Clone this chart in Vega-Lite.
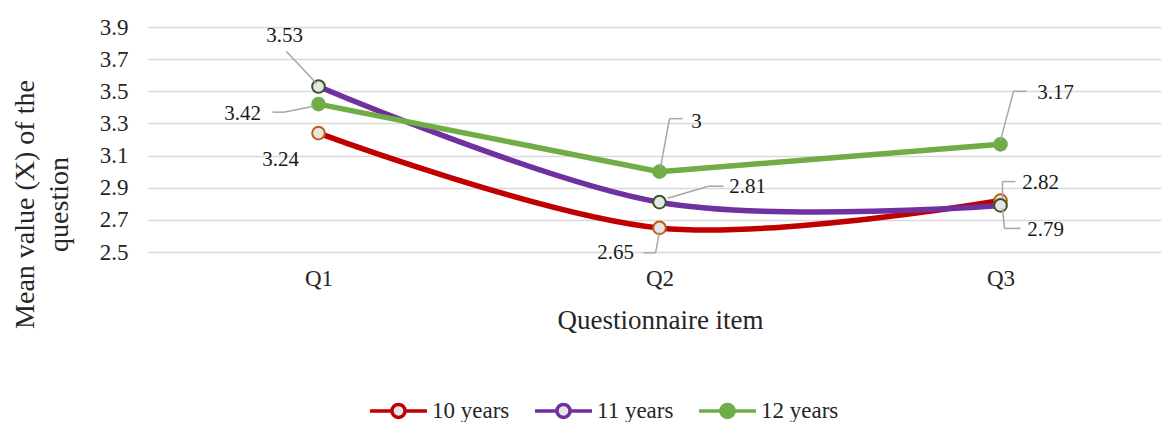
{
  "$schema": "https://vega.github.io/schema/vega-lite/v6.json",
  "width": 1013,
  "height": 225,
  "autosize": {"type": "none"},
  "padding": {"left": 148, "top": 27, "right": 0, "bottom": 170},
  "config": {
    "font": "Liberation Serif",
    "view": {"stroke": null},
    "text": {"font": "Liberation Serif"},
    "legend": {"labelFont": "Liberation Serif"},
    "axis": {"labelFont": "Liberation Serif", "titleFont": "Liberation Serif", "labelColor": "#262626", "titleColor": "#262626", "titleFontWeight": "normal"}
  },
  "data": {
    "values": [
      {"series": "10 years", "q": "Q1", "value": 3.24},
      {"series": "10 years", "q": "Q2", "value": 2.65},
      {"series": "10 years", "q": "Q3", "value": 2.82},
      {"series": "11 years", "q": "Q1", "value": 3.53},
      {"series": "11 years", "q": "Q2", "value": 2.81},
      {"series": "11 years", "q": "Q3", "value": 2.79},
      {"series": "12 years", "q": "Q1", "value": 3.42},
      {"series": "12 years", "q": "Q2", "value": 3.0},
      {"series": "12 years", "q": "Q3", "value": 3.17}
    ]
  },
  "encoding": {
    "x": {
      "field": "q", "type": "nominal",
      "scale": {"type": "point", "range": [0, 1023], "padding": 0.5},
      "axis": {
        "title": "Questionnaire item", "titleFontSize": 27, "titlePadding": 17, "titleX": 512,
        "labelFontSize": 23, "labelPadding": 15, "labelAngle": 0,
        "domain": false, "ticks": false, "grid": false
      }
    },
    "y": {
      "field": "value", "type": "quantitative",
      "scale": {"domain": [2.5, 3.9], "nice": false, "zero": false},
      "axis": {
        "title": ["Mean value (X) of the", "question"],
        "titleFontSize": 28, "titleLineHeight": 34,
        "titleX": -115, "titleY": 177, "titleAlign": "center", "titleBaseline": "alphabetic", "titleAngle": -90,
        "values": [2.5, 2.7, 2.9, 3.1, 3.3, 3.5, 3.7, 3.9], "format": ".1f",
        "labelFontSize": 23, "labelPadding": 20,
        "domain": false, "ticks": false,
        "grid": true, "gridColor": "#d9d9d9", "gridWidth": 1.5
      }
    }
  },
  "layer": [
    {
      "transform": [{"filter": "datum.series !== '12 years'"}],
      "mark": {"type": "line", "interpolate": "cardinal", "tension": 0, "strokeWidth": 5.5},
      "encoding": {
        "color": {
          "field": "series", "type": "nominal",
          "scale": {"domain": ["10 years", "11 years", "12 years"], "range": ["#c00000", "#7030a0", "#70ad47"]},
          "legend": {
            "title": null, "orient": "none", "direction": "horizontal",
            "legendX": 220, "legendY": 353,
            "symbolType": "M-1,0H-0.23M0.23,0H1M0.23,0A0.23,0.23 0 1,1 -0.23,0A0.23,0.23 0 1,1 0.23,0Z",
            "symbolSize": 3249, "symbolStrokeWidth": 3.5,
            "labelFont": "Liberation Serif",
            "labelFontSize": 23, "labelColor": "#262626", "labelOffset": 3,
            "columnPadding": 18,
            "encode": {
              "symbols": {
                "update": {
                  "fill": {"signal": "datum.value === '12 years' ? '#70ad47' : '#e7e6e6'"},
                  "fillOpacity": {"value": 1},
                  "stroke": {"signal": "datum.value === '10 years' ? '#c00000' : datum.value === '11 years' ? '#7030a0' : '#70ad47'"}
                }
              }
            }
          }
        },
        "detail": {"field": "series"}
      }
    },
    {
      "transform": [{"filter": "datum.series === '12 years'"}],
      "mark": {"type": "line", "interpolate": "linear", "strokeWidth": 5.5},
      "encoding": {"color": {"field": "series", "type": "nominal"}}
    },
    {
      "mark": {"type": "point", "shape": "circle", "filled": true, "size": 160, "strokeWidth": 2, "opacity": 1},
      "encoding": {
        "fill": {
          "field": "series", "type": "nominal",
          "scale": {"domain": ["10 years", "11 years", "12 years"], "range": ["#e7e6e6", "#e7e6e6", "#70ad47"]},
          "legend": null
        },
        "stroke": {
          "field": "series", "type": "nominal",
          "scale": {"domain": ["10 years", "11 years", "12 years"], "range": ["#c55a11", "#375623", "#70ad47"]},
          "legend": null
        }
      }
    },
    {"transform": [{"filter": "datum.series === '11 years' && datum.q === 'Q1'"}],
     "mark": {"type": "rule", "color": "#a6a6a6", "strokeWidth": 1.5, "xOffset": -2, "yOffset": -3, "x2Offset": -32, "y2Offset": -35},
     "encoding": {"x2": {"field": "q"}, "y2": {"field": "value"}}},
    {"transform": [{"filter": "datum.series === '12 years' && datum.q === 'Q1'"}],
     "mark": {"type": "rule", "color": "#a6a6a6", "strokeWidth": 1.5, "xOffset": -5, "yOffset": 2, "x2Offset": -35, "y2Offset": 8},
     "encoding": {"x2": {"field": "q"}, "y2": {"field": "value"}}},
    {"transform": [{"filter": "datum.series === '12 years' && datum.q === 'Q1'"}],
     "mark": {"type": "rule", "color": "#a6a6a6", "strokeWidth": 1.5, "xOffset": -35, "yOffset": 8, "x2Offset": -46, "y2Offset": 8},
     "encoding": {"x2": {"field": "q"}, "y2": {"field": "value"}}},
    {"transform": [{"filter": "datum.series === '12 years' && datum.q === 'Q2'"}],
     "mark": {"type": "rule", "color": "#a6a6a6", "strokeWidth": 1.5, "xOffset": 1, "yOffset": -4, "x2Offset": 10, "y2Offset": -53},
     "encoding": {"x2": {"field": "q"}, "y2": {"field": "value"}}},
    {"transform": [{"filter": "datum.series === '12 years' && datum.q === 'Q2'"}],
     "mark": {"type": "rule", "color": "#a6a6a6", "strokeWidth": 1.5, "xOffset": 10, "yOffset": -53, "x2Offset": 23, "y2Offset": -53},
     "encoding": {"x2": {"field": "q"}, "y2": {"field": "value"}}},
    {"transform": [{"filter": "datum.series === '11 years' && datum.q === 'Q2'"}],
     "mark": {"type": "rule", "color": "#a6a6a6", "strokeWidth": 1.5, "xOffset": 8, "yOffset": -4, "x2Offset": 49, "y2Offset": -16},
     "encoding": {"x2": {"field": "q"}, "y2": {"field": "value"}}},
    {"transform": [{"filter": "datum.series === '11 years' && datum.q === 'Q2'"}],
     "mark": {"type": "rule", "color": "#a6a6a6", "strokeWidth": 1.5, "xOffset": 49, "yOffset": -16, "x2Offset": 64, "y2Offset": -16},
     "encoding": {"x2": {"field": "q"}, "y2": {"field": "value"}}},
    {"transform": [{"filter": "datum.series === '10 years' && datum.q === 'Q2'"}],
     "mark": {"type": "rule", "color": "#a6a6a6", "strokeWidth": 1.5, "xOffset": 0, "yOffset": 4, "x2Offset": -4, "y2Offset": 25},
     "encoding": {"x2": {"field": "q"}, "y2": {"field": "value"}}},
    {"transform": [{"filter": "datum.series === '10 years' && datum.q === 'Q2'"}],
     "mark": {"type": "rule", "color": "#a6a6a6", "strokeWidth": 1.5, "xOffset": -4, "yOffset": 25, "x2Offset": -16, "y2Offset": 25},
     "encoding": {"x2": {"field": "q"}, "y2": {"field": "value"}}},
    {"transform": [{"filter": "datum.series === '12 years' && datum.q === 'Q3'"}],
     "mark": {"type": "rule", "color": "#a6a6a6", "strokeWidth": 1.5, "xOffset": 0, "yOffset": -4, "x2Offset": 13, "y2Offset": -53},
     "encoding": {"x2": {"field": "q"}, "y2": {"field": "value"}}},
    {"transform": [{"filter": "datum.series === '12 years' && datum.q === 'Q3'"}],
     "mark": {"type": "rule", "color": "#a6a6a6", "strokeWidth": 1.5, "xOffset": 13, "yOffset": -53, "x2Offset": 26, "y2Offset": -53},
     "encoding": {"x2": {"field": "q"}, "y2": {"field": "value"}}},
    {"transform": [{"filter": "datum.series === '10 years' && datum.q === 'Q3'"}],
     "mark": {"type": "rule", "color": "#a6a6a6", "strokeWidth": 1.5, "xOffset": 2, "yOffset": -3, "x2Offset": 2, "y2Offset": -19},
     "encoding": {"x2": {"field": "q"}, "y2": {"field": "value"}}},
    {"transform": [{"filter": "datum.series === '10 years' && datum.q === 'Q3'"}],
     "mark": {"type": "rule", "color": "#a6a6a6", "strokeWidth": 1.5, "xOffset": 2, "yOffset": -19, "x2Offset": 15, "y2Offset": -19},
     "encoding": {"x2": {"field": "q"}, "y2": {"field": "value"}}},
    {"transform": [{"filter": "datum.series === '11 years' && datum.q === 'Q3'"}],
     "mark": {"type": "rule", "color": "#a6a6a6", "strokeWidth": 1.5, "xOffset": 2, "yOffset": 3, "x2Offset": 4, "y2Offset": 23},
     "encoding": {"x2": {"field": "q"}, "y2": {"field": "value"}}},
    {"transform": [{"filter": "datum.series === '11 years' && datum.q === 'Q3'"}],
     "mark": {"type": "rule", "color": "#a6a6a6", "strokeWidth": 1.5, "xOffset": 4, "yOffset": 23, "x2Offset": 20, "y2Offset": 23},
     "encoding": {"x2": {"field": "q"}, "y2": {"field": "value"}}},
    {"transform": [{"filter": "datum.series === '10 years' && datum.q === 'Q1'"}],
     "mark": {"type": "text", "font": "Liberation Serif", "fontSize": 21, "color": "#1a1a1a", "baseline": "middle", "dx": -38, "dy": 27},
     "encoding": {"text": {"field": "value", "type": "nominal"}}},
    {"transform": [{"filter": "datum.series === '11 years' && datum.q === 'Q1'"}],
     "mark": {"type": "text", "font": "Liberation Serif", "fontSize": 21, "color": "#1a1a1a", "baseline": "middle", "dx": -34, "dy": -50},
     "encoding": {"text": {"field": "value", "type": "nominal"}}},
    {"transform": [{"filter": "datum.series === '12 years' && datum.q === 'Q1'"}],
     "mark": {"type": "text", "font": "Liberation Serif", "fontSize": 21, "color": "#1a1a1a", "baseline": "middle", "dx": -76, "dy": 10},
     "encoding": {"text": {"field": "value", "type": "nominal"}}},
    {"transform": [{"filter": "datum.series === '12 years' && datum.q === 'Q2'"}],
     "mark": {"type": "text", "font": "Liberation Serif", "fontSize": 21, "color": "#1a1a1a", "baseline": "middle", "dx": 37, "dy": -50},
     "encoding": {"text": {"field": "value", "type": "nominal"}}},
    {"transform": [{"filter": "datum.series === '11 years' && datum.q === 'Q2'"}],
     "mark": {"type": "text", "font": "Liberation Serif", "fontSize": 21, "color": "#1a1a1a", "baseline": "middle", "dx": 88, "dy": -15},
     "encoding": {"text": {"field": "value", "type": "nominal"}}},
    {"transform": [{"filter": "datum.series === '10 years' && datum.q === 'Q2'"}],
     "mark": {"type": "text", "font": "Liberation Serif", "fontSize": 21, "color": "#1a1a1a", "baseline": "middle", "dx": -44, "dy": 25},
     "encoding": {"text": {"field": "value", "type": "nominal"}}},
    {"transform": [{"filter": "datum.series === '12 years' && datum.q === 'Q3'"}],
     "mark": {"type": "text", "font": "Liberation Serif", "fontSize": 21, "color": "#1a1a1a", "baseline": "middle", "dx": 55, "dy": -51},
     "encoding": {"text": {"field": "value", "type": "nominal"}}},
    {"transform": [{"filter": "datum.series === '10 years' && datum.q === 'Q3'"}],
     "mark": {"type": "text", "font": "Liberation Serif", "fontSize": 21, "color": "#1a1a1a", "baseline": "middle", "dx": 40, "dy": -18},
     "encoding": {"text": {"field": "value", "type": "nominal"}}},
    {"transform": [{"filter": "datum.series === '11 years' && datum.q === 'Q3'"}],
     "mark": {"type": "text", "font": "Liberation Serif", "fontSize": 21, "color": "#1a1a1a", "baseline": "middle", "dx": 45, "dy": 25},
     "encoding": {"text": {"field": "value", "type": "nominal"}}}
  ]
}
